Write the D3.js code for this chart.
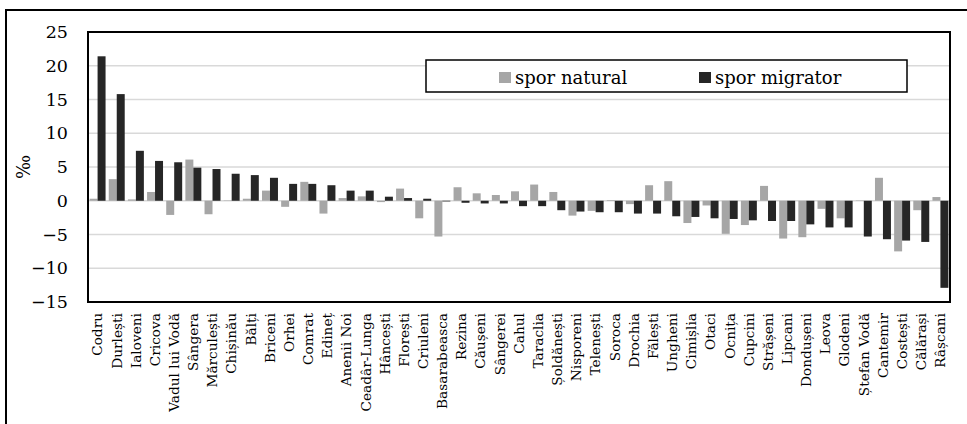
<!DOCTYPE html>
<html>
<head>
<meta charset="utf-8">
<script src="https://cdnjs.cloudflare.com/ajax/libs/d3/7.8.5/d3.min.js"></script>
<style>
  html, body { margin: 0; padding: 0; background: #fff; }
  svg { display: block; }
  text { font-family: "DejaVu Serif", serif; fill: #000; }
</style>
</head>
<body>
<svg id="chart" width="967" height="424"></svg>
<script>
const categories = ["Codru","Durlești","Ialoveni","Cricova","Vadul lui Vodă","Sângera","Mărculești","Chișinău","Bălți","Briceni","Orhei","Comrat","Edineț","Anenii Noi","Ceadâr-Lunga","Hâncești","Florești","Criuleni","Basarabeasca","Rezina","Căușeni","Sângerei","Cahul","Taraclia","Șoldănești","Nisporeni","Telenești","Soroca","Drochia","Fălești","Ungheni","Cimișlia","Otaci","Ocnița","Cupcini","Strășeni","Lipcani","Dondușeni","Leova","Glodeni","Ștefan Vodă","Cantemir","Costești","Călărași","Râșcani"];
const sporNatural = [0.3,3.2,0.2,1.3,-2.1,6.1,-2.0,0.05,0.3,1.5,-0.9,2.8,-1.9,0.4,0.65,-0.2,1.8,-2.6,-5.3,2.0,1.1,0.85,1.4,2.4,1.3,-2.2,-1.5,0.1,-0.5,2.3,2.9,-3.3,-0.7,-4.9,-3.6,2.2,-5.6,-5.4,-1.2,-2.6,0.05,3.4,-7.5,-1.4,0.55];
const sporMigrator = [21.4,15.8,7.4,5.9,5.7,4.9,4.7,4.0,3.8,3.4,2.5,2.5,2.3,1.5,1.5,0.6,0.4,0.3,-0.1,-0.3,-0.4,-0.4,-0.8,-0.8,-1.4,-1.6,-1.7,-1.7,-1.9,-1.9,-2.3,-2.4,-2.6,-2.7,-2.9,-3.0,-3.0,-3.5,-3.95,-3.95,-5.3,-5.7,-5.9,-6.1,-12.9];
const seriesNames = ["spor natural","spor migrator"];
const yTicks = [25,20,15,10,5,0,-5,-10,-15];
const yTitle = "‰";

(function(){
const colors = {"spor natural":"#a6a6a6","spor migrator":"#262626"};
const svg = d3.select("#chart");

// outer frame
svg.append("rect").attr("x",6).attr("y",10).attr("width",1000).attr("height",500)
  .attr("fill","none").attr("stroke","#000").attr("stroke-width",2);

const pL = 88, pR = 950, pT = 32, pB = 302;
const x0 = d3.scaleBand().domain(categories).range([pL,pR]).paddingInner(1/6).paddingOuter(1/12);
const x1 = d3.scaleBand().domain(seriesNames).range([0,x0.bandwidth()]);
const y = d3.scaleLinear().domain([-15,25]).range([pB,pT]);

// gridlines
svg.append("g").selectAll("line").data(yTicks).join("line")
  .attr("x1",pL).attr("x2",pR)
  .attr("y1",d=>y(d)).attr("y2",d=>y(d))
  .attr("stroke","#d9d9d9").attr("stroke-width",1.5);

// bars
const rows = categories.map((c,i)=>({c, vals:[{s:"spor natural",v:sporNatural[i]},{s:"spor migrator",v:sporMigrator[i]}]}));
const g = svg.append("g").selectAll("g").data(rows).join("g")
  .attr("transform",d=>`translate(${x0(d.c)},0)`);
g.selectAll("rect").data(d=>d.vals).join("rect")
  .attr("x",d=>x1(d.s)).attr("width",x1.bandwidth())
  .attr("y",d=>y(Math.max(0,d.v))).attr("height",d=>Math.abs(y(d.v)-y(0)))
  .attr("fill",d=>colors[d.s]);

// plot border
svg.append("rect").attr("x",pL).attr("y",pT).attr("width",pR-pL).attr("height",pB-pT)
  .attr("fill","none").attr("stroke","#000").attr("stroke-width",2);

// y axis labels
const yAxis = d3.axisLeft(y).tickValues(yTicks).tickSize(0).tickPadding(20).tickFormat(d3.format("d"));
const ya = svg.append("g").attr("transform",`translate(${pL},0)`).call(yAxis);
ya.select(".domain").remove();
ya.selectAll("text").style("font-family","DejaVu Serif").style("font-size","17.5px").attr("fill","#000");

// x axis labels
const xAxis = d3.axisBottom(x0).tickSize(0).tickPadding(0);
const xa = svg.append("g").attr("transform",`translate(0,${pB})`).call(xAxis);
xa.select(".domain").remove();
xa.selectAll("text")
  .style("font-family","DejaVu Serif").style("font-size","13.7px").attr("fill","#000")
  .attr("text-anchor","end")
  .attr("transform","rotate(-90)")
  .attr("x",-11).attr("y",0).attr("dy","0.35em");

// y title
svg.append("text").attr("transform","translate(30,167) rotate(-90)")
  .attr("text-anchor","middle").style("font-size","18px").text(yTitle);

// legend
svg.append("rect").attr("x",426).attr("y",60).attr("width",481).attr("height",32)
  .attr("fill","#fff").attr("stroke","#000").attr("stroke-width",1.5);
const legendX = {"spor natural":499,"spor migrator":699};
const lg = svg.append("g").selectAll("g").data(seriesNames).join("g")
  .attr("transform",d=>`translate(${legendX[d]},72)`);
lg.append("rect").attr("width",12).attr("height",11).attr("fill",d=>colors[d]);
lg.append("text").attr("x",16).attr("y",11.5).style("font-size","18px").text(d=>d);
})();
</script>
</body>
</html>
